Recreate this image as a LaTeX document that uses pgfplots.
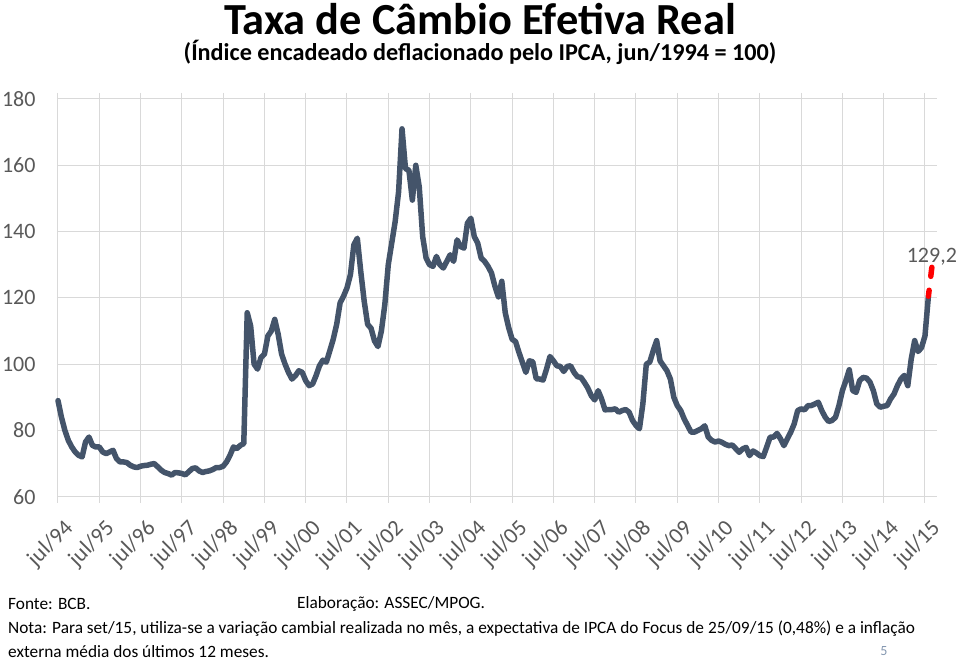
\documentclass[border=0pt]{standalone}
\usepackage{fontspec}
\setmainfont{Carlito}
\usepackage{pgfplots}
\pgfplotsset{compat=1.18}
\definecolor{serie}{HTML}{44546A}
\definecolor{grade}{HTML}{D9D9D9}
\definecolor{rotulo}{HTML}{595959}
\definecolor{pagina}{HTML}{8497B0}
\begin{document}
\begin{tikzpicture}[x=1pt,y=1pt]
\path[use as bounding box] (0,0) rectangle (960,661);
\begin{axis}[
  at={(58pt,164.3pt)}, anchor=south west,
  scale only axis, width=879pt, height=397.7pt,
  xmin=0, xmax=255.5, ymin=60, ymax=180,
  axis line style={draw=none},
  ytick={60,80,...,180},
  xtick={0,12,...,252},
  xticklabels={jul/94,jul/95,jul/96,jul/97,jul/98,jul/99,jul/00,jul/01,jul/02,jul/03,jul/04,jul/05,jul/06,jul/07,jul/08,jul/09,jul/10,jul/11,jul/12,jul/13,jul/14,jul/15},
  grid=major, major grid style={grade, line width=1pt},
  tick align=outside, major tick length=6pt,
  xtick style={grade, line width=1pt},
  ytick style={draw=none},
  /pgf/number format/assume math mode=true,
  yticklabel style={font=\fontsize{22}{26}\selectfont, text=rotulo, xshift=-13pt},
  xticklabel style={font=\fontsize{22.6}{26}\selectfont, text=rotulo, rotate=45, anchor=north east, inner sep=1pt, xshift=-6pt, yshift=-13pt},
  clip=false,
]
\addplot[serie, line width=5.5pt, line join=round, line cap=round] coordinates {
(0,89)(1,84)(2,80)(3,77)(4,75)(5,73.5)(6,72.5)(7,72)(8,76.5)(9,78)(10,75.5)(11,75)
(12,75)(13,73.5)(14,73)(15,73.5)(16,74)(17,71.5)(18,70.5)(19,70.5)(20,70.3)(21,69.5)(22,69)(23,68.8)
(24,69.2)(25,69.4)(26,69.5)(27,69.8)(28,70)(29,69)(30,68)(31,67.3)(32,67)(33,66.5)(34,67.3)(35,67.2)
(36,67)(37,66.6)(38,67.5)(39,68.5)(40,68.7)(41,67.8)(42,67.3)(43,67.6)(44,67.8)(45,68.2)(46,68.8)(47,68.8)
(48,69.2)(49,70.5)(50,72.5)(51,75)(52,74.5)(53,75.5)(54,76)(55,115.5)(56,111.5)(57,100)(58,98.5)(59,102)
(60,103)(61,108.5)(62,110)(63,113.5)(64,109)(65,103)(66,100)(67,97.5)(68,95.5)(69,96.5)(70,98)(71,97.5)
(72,95)(73,93.5)(74,94)(75,96.5)(76,99.5)(77,101.2)(78,100.6)(79,104)(80,107.5)(81,112)(82,118.5)(83,120.5)
(84,123)(85,127)(86,136)(87,138)(88,128)(89,119)(90,112)(91,110.8)(92,107)(93,105.3)(94,110)(95,118)
(96,130)(97,136.5)(98,143)(99,152)(100,171)(101,159)(102,158.5)(103,149.5)(104,160)(105,153.5)(106,138.5)(107,132)
(108,130)(109,129.5)(110,132.5)(111,130)(112,129)(113,131)(114,133)(115,131)(116,137.5)(117,135.5)(118,135)(119,142.5)
(120,144)(121,138.5)(122,136.5)(123,132)(124,131)(125,129.5)(126,127.5)(127,123.5)(128,120.3)(129,125)(130,115.5)(131,111)
(132,107.5)(133,106.8)(134,103.5)(135,100.5)(136,97.5)(137,101)(138,100.7)(139,95.6)(140,95.5)(141,95.2)(142,98.5)(143,102.3)
(144,101)(145,99.5)(146,99.3)(147,97.8)(148,99.3)(149,99.5)(150,97.5)(151,96.2)(152,96)(153,94.5)(154,92.8)(155,90.5)
(156,89.2)(157,92)(158,89.5)(159,86.2)(160,86.3)(161,86.3)(162,86.5)(163,85.5)(164,86)(165,86.3)(166,85.5)(167,83)
(168,81.5)(169,80.5)(170,88)(171,100)(172,100.6)(173,104)(174,107.1)(175,101)(176,99.5)(177,98)(178,95.5)(179,90)
(180,87.5)(181,86)(182,83.5)(183,81.5)(184,79.5)(185,79.5)(186,80)(187,80.5)(188,81.4)(189,78)(190,77)(191,76.5)
(192,76.8)(193,76.4)(194,75.8)(195,75.4)(196,75.6)(197,74.5)(198,73.4)(199,74.4)(200,74.9)(201,72.4)(202,73.8)(203,73.2)
(204,72.4)(205,72.1)(206,75)(207,78)(208,78)(209,79.1)(210,77.5)(211,75.4)(212,77.5)(213,79.5)(214,82)(215,86)
(216,86.5)(217,86.2)(218,87.5)(219,87.5)(220,88)(221,88.5)(222,86)(223,84)(224,82.7)(225,83)(226,84)(227,87.5)
(228,92)(229,95)(230,98.3)(231,92)(232,91.5)(233,95)(234,96)(235,95.8)(236,94.6)(237,92)(238,88)(239,87)
(240,87.3)(241,87.5)(242,89.5)(243,91)(244,93.5)(245,95.5)(246,96.6)(247,93.5)(248,101.5)(249,107.1)(250,103.8)(251,105)
(252,108.5)(253,120.5)
};
\addplot[red, line width=5.5pt, line cap=round, dash pattern=on 6pt off 14pt on 12pt off 20pt] coordinates {(253,120.5)(254,129.2)}
  node[pos=1, above, yshift=-4pt, font=\fontsize{22}{26}\selectfont, text=rotulo] {129,2};
\end{axis}
\node[font=\fontsize{44.4}{52}\selectfont\bfseries] at (480,642) {Taxa de Câmbio Efetiva Real};
\node[font=\fontsize{24.2}{28}\selectfont\bfseries] at (480,609) {(Índice encadeado deflacionado pelo IPCA, jun/1994 = 100)};
\node[anchor=west, inner sep=0pt, font=\fontsize{17.3}{21}\selectfont] at (8,57) {Fonte: BCB.};
\node[anchor=west, inner sep=0pt, font=\fontsize{17.3}{21}\selectfont] at (297,57) {Elaboração: ASSEC/MPOG.};
\node[anchor=west, inner sep=0pt, font=\fontsize{17.3}{21}\selectfont] at (8,32) {Nota: Para set/15, utiliza-se a variação cambial realizada no mês, a expectativa de IPCA do Focus de 25/09/15 (0,48\%) e a inflação};
\node[anchor=west, inner sep=0pt, font=\fontsize{17.3}{21}\selectfont] at (8,9) {externa média dos últimos 12 meses.};
\node[inner sep=0pt, font=\fontsize{14}{16}\selectfont, text=pagina] at (884,10) {5};
\end{tikzpicture}
\end{document}
